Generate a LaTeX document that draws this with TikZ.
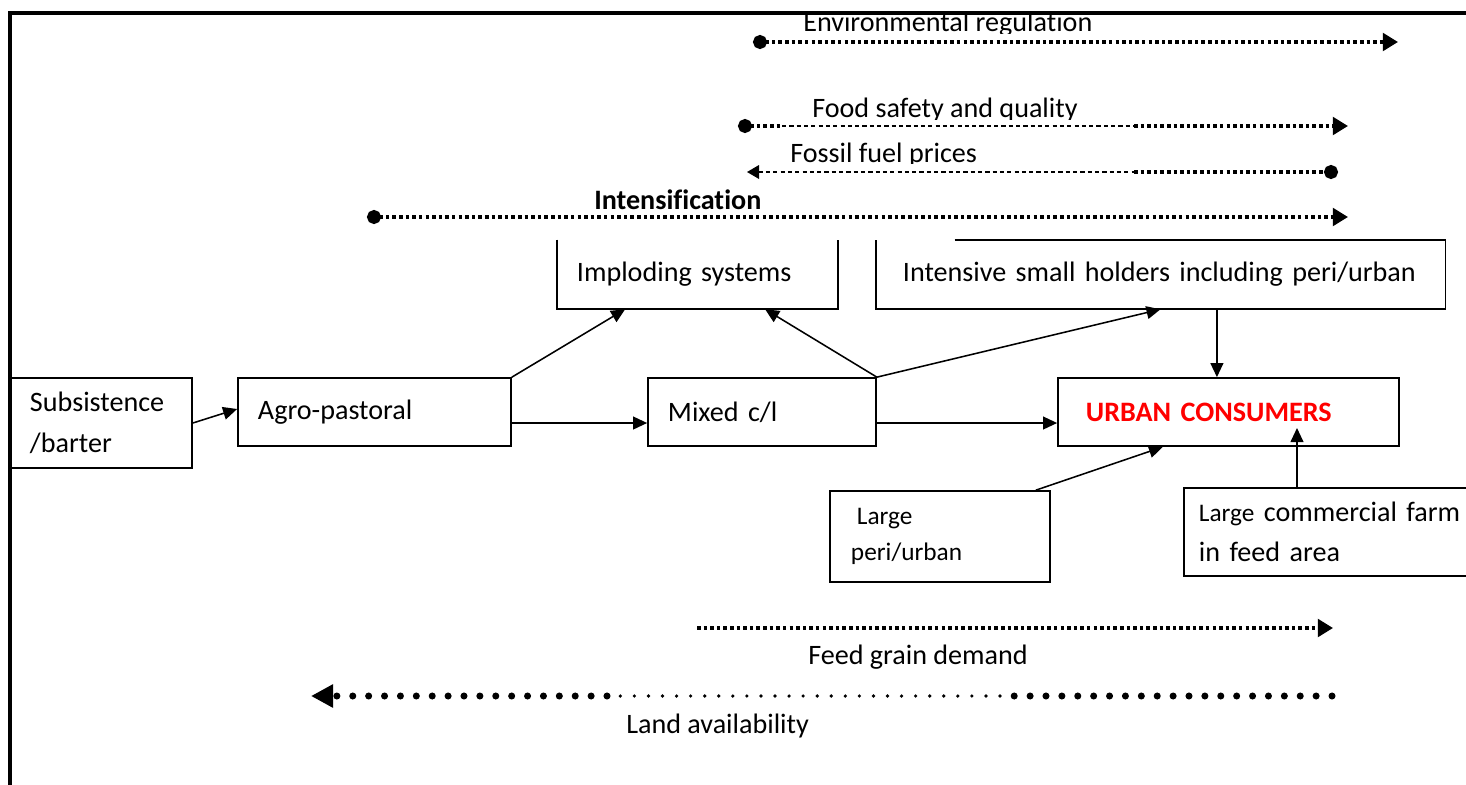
\documentclass[tikz,border=0pt]{standalone}
\usepackage{fontspec}
\setmainfont{Carlito}[Ligatures=NoCommon]
\usetikzlibrary{arrows.meta}

\tikzset{
  box/.style={rectangle, inner ysep=0pt, align=left, font=\fontsize{20}{28}\selectfont},
  framed/.style={draw, line width=1.2pt},
  boxedge/.style={line width=1.2pt},
  conn/.style={line width=1.1pt, -{Triangle[length=3.5mm,width=3.2mm]}},
  trend/.style={line width=2.5pt, dash pattern=on 2.5pt off 2.2pt},
  trendfine/.style={line width=1.1pt, dash pattern=on 3pt off 2.2pt},
  landdots/.style={line width=5pt, line cap=round, dash pattern=on 0pt off 11.3pt},
  landfine/.style={line width=2.6pt, line cap=round, dash pattern=on 0pt off 10pt},
  dottip/.style={{Circle[length=3.5mm]}-{Triangle[length=3.8mm,width=4.4mm]}},
  dotonly/.style={{Circle[length=3.5mm]}-},
  dotend/.style={-{Circle[length=3.5mm]}},
  tipend/.style={-{Triangle[length=3.8mm,width=4.4mm]}},
  lbl/.style={anchor=base west, inner sep=0pt, font=\fontsize{20}{24}\selectfont},
}

\begin{document}
\begin{tikzpicture}[x=0.025cm, y=-0.025cm]
  \useasboundingbox (0,0) rectangle (1466,784);
  % frame
  \draw[line width=2.8pt] (10,820) -- (10,13) -- (1500,13);

  % boxes
  \node[box, minimum width=7.025cm, minimum height=1.725cm, inner xsep=0.5cm, text width=6.025cm]
    (imp) at (697.5,274.5) {Imploding systems};
  \node[box, minimum width=14.225cm, minimum height=1.725cm, inner xsep=0.675cm, text width=12.875cm]
    (ints) at (1160.5,274.5) {Intensive small holders including peri/urban};
  \node[box, framed, minimum width=4.525cm, minimum height=2.25cm, inner xsep=0.475cm, text width=3.575cm,
    font=\fontsize{20}{29.5}\selectfont]
    (subs) at (101.5,423) {Subsistence\\/barter};
  \node[box, framed, minimum width=6.825cm, minimum height=1.7cm, inner xsep=0.5cm, text width=5.825cm]
    (agro) at (374.5,412) {Agro-pastoral};
  \node[box, framed, minimum width=5.7cm, minimum height=1.7cm, inner xsep=0.5cm, text width=4.7cm]
    (mixed) at (762,412) {Mixed c/l};
  \node[box, framed, minimum width=8.525cm, minimum height=1.7cm, inner xsep=0.7cm, text width=7.125cm,
    font=\fontsize{20}{28}\selectfont\bfseries, text=red]
    (urban) at (1228.5,412) {URBAN CONSUMERS};
  \node[box, framed, minimum width=5.5cm, minimum height=2.275cm, inner xsep=0.525cm, text width=4.45cm,
    font=\fontsize{18}{26}\selectfont]
    (lpu) at (940,536.5) {\hspace{0.15cm}Large\\peri/urban};
  \node[box, framed, minimum width=7.75cm, minimum height=2.2cm, inner xsep=0.375cm, text width=7cm]
    (lcf) at (1339,532) {{\fontsize{18}{28}\selectfont Large} commercial farm\\in feed area};

  % open box outlines
  \draw[boxedge] (imp.north west) -- (imp.south west) -- (imp.south east) -- (imp.north east);
  \draw[boxedge] ([xshift=1.975cm]ints.north west) -- (ints.north east) -- (ints.south east)
    -- (ints.south west) -- (ints.north west);

  % connectors
  \draw[conn] (subs.east) -- ([yshift=0.075cm]agro.west);
  \draw[conn] ([yshift=-2.75mm]agro.east) -- ([yshift=-2.75mm]mixed.west);
  \draw[conn] (agro.north east) -- ([xshift=-1.81cm]imp.south);
  \draw[conn] (mixed.north east) -- ([xshift=1.69cm]imp.south);
  \draw[conn] (mixed.north east) -- (ints.south);
  \draw[conn] ([yshift=-2.75mm]mixed.east) -- ([yshift=-2.75mm]urban.west);
  \coordinate (intsout) at ([xshift=1.41cm]ints.south);
  \draw[conn] (intsout) -- (intsout |- urban.north);
  \draw[conn] ([xshift=-0.375cm]lpu.north east) -- ([xshift=-1.64cm]urban.south);
  \coordinate (lcfin) at ([xshift=-1.05cm]lcf.north);
  \coordinate (urbin) at ([yshift=-0.4cm]urban.center);
  \draw[conn] (lcfin) -- (lcfin |- urbin);

  % trend labels
  \begin{scope}
    \clip (700,0) rectangle (1200,33);
    \node[lbl] (envlbl) at (803,31) {Environmental regulation};
  \end{scope}
  \begin{scope}
    \clip (700,90) rectangle (1200,119);
    \node[lbl] (foodlbl) at (812,117) {Food safety and quality};
  \end{scope}
  \begin{scope}
    \clip (700,135) rectangle (1200,163.5);
    \node[lbl] (fossillbl) at (790,162) {Fossil fuel prices};
  \end{scope}
  \node[lbl, font=\fontsize{20}{24}\selectfont\bfseries] (intlbl) at (594,209) {Intensification};
  \node[lbl] (feedlbl) at (808,664) {Feed grain demand};
  \node[lbl] (landlbl) at (626,733) {Land availability};

  % trend arrows
  \coordinate (envA) at (753,42);
  \coordinate (envB) at (1398,42);
  \draw[trend, dottip] (envA) -- (envB);

  \coordinate (foodA) at (738,126);
  \coordinate (foodS) at (782,126);
  \coordinate (foodM) at (1134,126);
  \coordinate (foodB) at (1348,126);
  \draw[trend, dotonly] (foodA) -- (foodS);
  \draw[trendfine] (foodS) -- (foodM);
  \draw[trend, tipend] (foodM) -- (foodB);

  \coordinate (fosA) at (747,172);
  \coordinate (fosM) at (1134,172);
  \coordinate (fosB) at (1338,172);
  \draw[trendfine, {Triangle[length=3mm,width=3.4mm]}-] (fosA) -- (fosM);
  \draw[trend, dotend] (fosM) -- (fosB);

  \coordinate (intA) at (367,217);
  \coordinate (intB) at (1348,217);
  \draw[trend, dottip] (intA) -- (intB);

  \coordinate (feedA) at (697,628);
  \coordinate (feedB) at (1333,628);
  \draw[trend, tipend] (feedA) -- (feedB);

  \coordinate (landA) at (1332,696);
  \coordinate (landM) at (1000,696);
  \coordinate (landN) at (607,696);
  \coordinate (landB) at (311,696);
  \draw[landdots] (landA) -- (landM);
  \draw[landfine] (landM) -- (landN);
  \draw[landdots, -{Triangle[length=5.5mm,width=5.5mm]}] (landN) -- (landB);
\end{tikzpicture}
\end{document}
